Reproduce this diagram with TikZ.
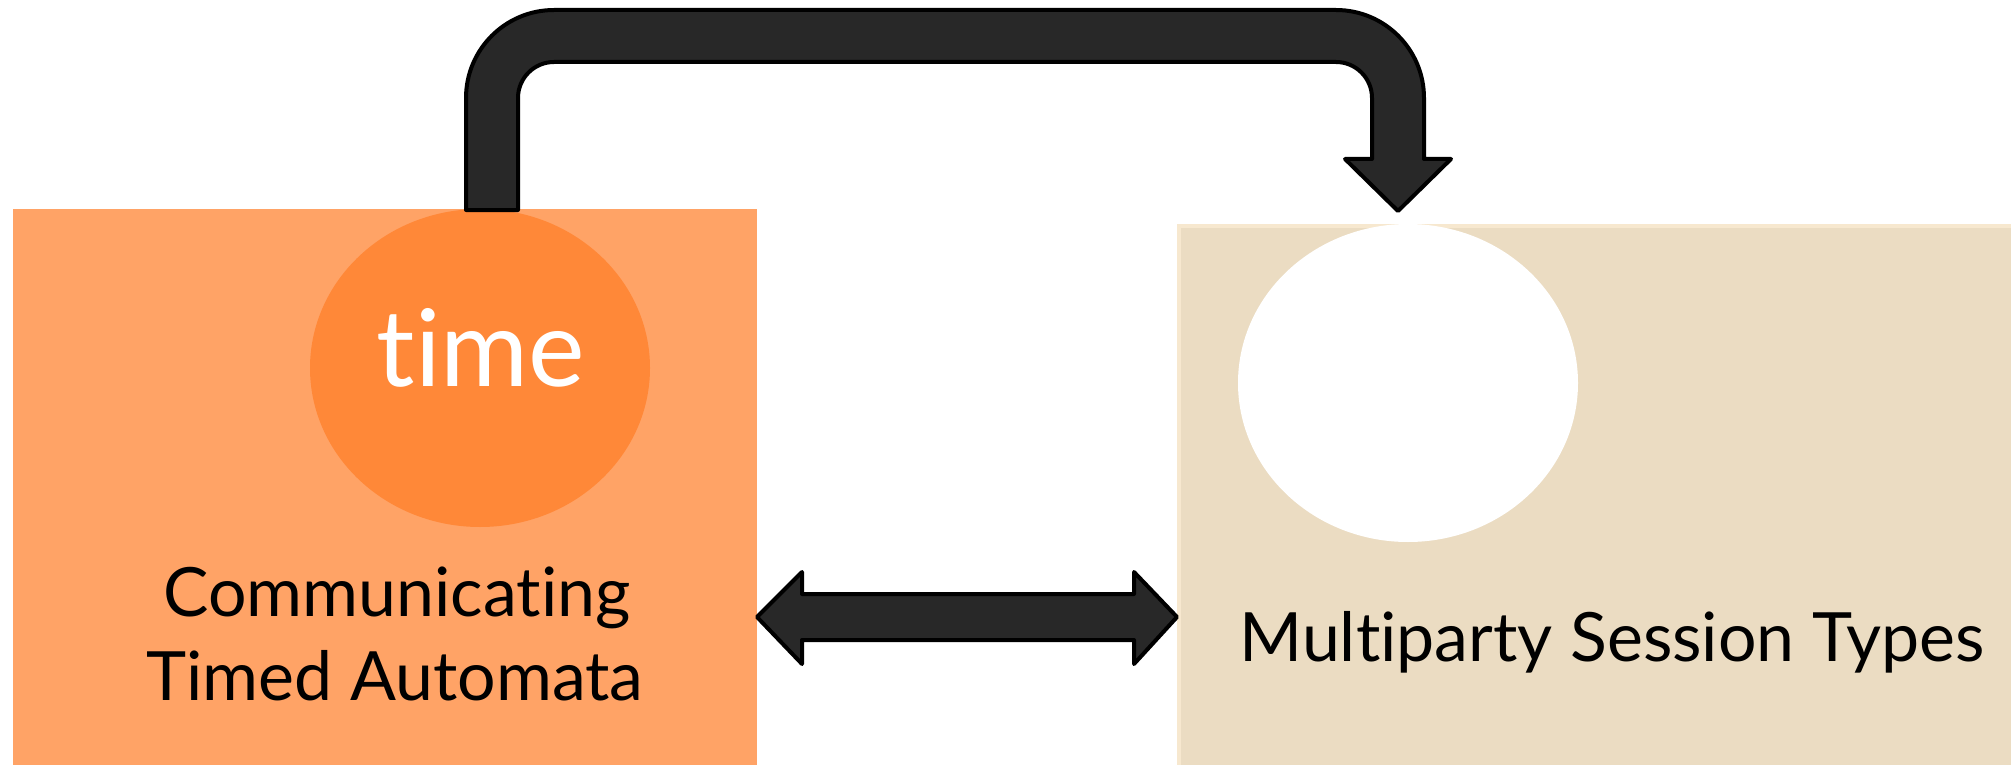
\documentclass[tikz,border=0pt]{standalone}
\usepackage{fontspec}
\setmainfont{Lato}[Ligatures=NoCommon]
\usetikzlibrary{shapes.geometric}
\definecolor{ctaorange}{HTML}{FFA366}
\definecolor{timeorange}{HTML}{FF8838}
\definecolor{mpstan}{HTML}{EBDCC2}
\definecolor{mpsfringe}{HTML}{F7E8CF}
\definecolor{arrowgrey}{HTML}{282828}
\tikzset{
  panel/.style={draw=none, rectangle, inner sep=0pt, outer sep=0pt},
  blob/.style={draw=none, ellipse, inner sep=0pt, minimum width=340pt, minimum height=318pt},
  caption/.style={font=\fontsize{68}{84}\selectfont, text=black, inner sep=0pt, align=center},
  fatarrow/.style={fill=arrowgrey, draw=black, line width=4pt, line join=round},
}
\begin{document}
\begin{tikzpicture}[x=1pt, y=-1pt]
  \useasboundingbox (0,0) rectangle (2011,765);
  \fill[white] (0,0) rectangle (2011,765);

  % left panel: communicating timed automata
  \node[panel, fill=ctaorange, anchor=north west, minimum width=744pt, minimum height=556pt] (cta) at (13,209) {};
  \node[blob, fill=timeorange] (timeblob) at (480,368) {};
  \node[anchor=base, inner sep=0pt, text=white, font=\fontsize{107}{120}\selectfont] (timelbl) at (481,386) {time};
  \node[caption, anchor=base] (ctaline1) at (397,616) {Communicating};
  \node[caption, anchor=base] (ctaline2) at (395,700) {Timed Automata};

  % right panel: multiparty session types, with a soft pale rim
  \node[panel, fill=mpsfringe, anchor=north west, minimum width=834pt, minimum height=541pt] (mps) at (1177,224) {};
  \fill[mpstan] ([xshift=4pt, yshift=-4pt]mps.north west) rectangle (mps.south east);
  \node[blob, fill=white] (mpsblob) at (1408,383) {};
  \node[caption, anchor=base] (mpsline) at (1612,661) {Multiparty Session Types};

  % bent arrow from the time blob over to the session-type blob
  \draw[fatarrow]
    (466,210) -- (466,98)
    .. controls (466,49.4) and (505.4,10) .. (554,10)
    -- (1336,10)
    .. controls (1384.6,10) and (1424,49.4) .. (1424,98)
    -- (1424,159) -- (1451,159) -- (1398,211) -- (1345,159) -- (1372,159)
    -- (1372,98)
    .. controls (1372,78.1) and (1355.9,62) .. (1336,62)
    -- (554,62)
    .. controls (534.1,62) and (518,78.1) .. (518,98)
    -- (518,210) -- cycle;

  % two-headed arrow between the panels
  \draw[fatarrow]
    (cta.east |- 0,617) -- (802,572) -- (802,594) -- (1134,594) -- (1134,572)
    -- (mps.west |- 0,617) -- (1134,664) -- (1134,640) -- (802,640) -- (802,664) -- cycle;
\end{tikzpicture}
\end{document}
